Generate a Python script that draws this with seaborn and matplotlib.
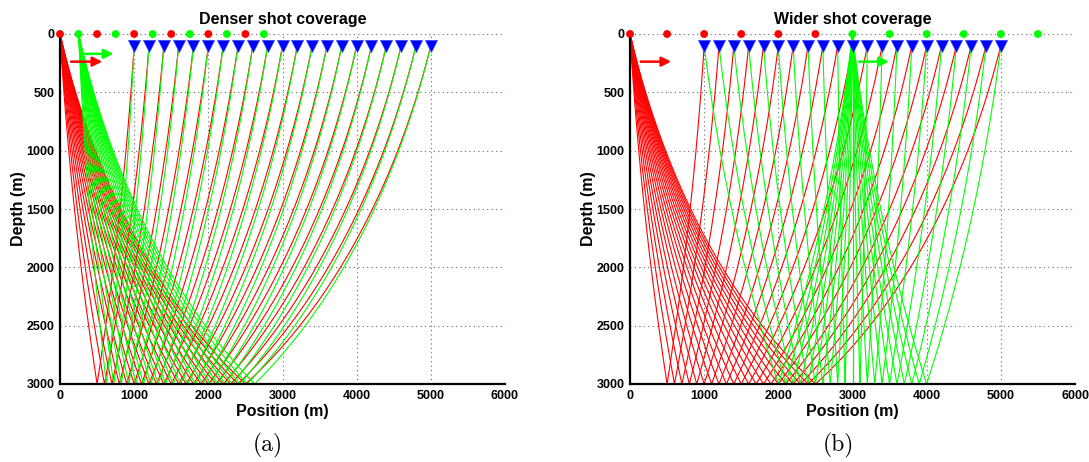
import numpy as np
import pandas as pd
import matplotlib
matplotlib.use("Agg")
import matplotlib.pyplot as plt
import seaborn as sns

# ---- survey geometry (metres) ----
receiver_x = [1000, 1200, 1400, 1600, 1800, 2000, 2200, 2400, 2600, 2800, 3000,
              3200, 3400, 3600, 3800, 4000, 4200, 4400, 4600, 4800, 5000]
receiver_depth = 100
reflector_depth = 3000

dense_red_shots = [0, 500, 1000, 1500, 2000, 2500]
dense_green_shots = [250, 750, 1250, 1750, 2250, 2750]
wide_red_shots = [0, 500, 1000, 1500, 2000, 2500]
wide_green_shots = [3000, 3500, 4000, 4500, 5000, 5500]

# shot whose rays are traced in each panel: (red, green)
dense_traced = (0, 250)
wide_traced = (0, 3000)

# shot-move arrows: (x start, x end, depth)
dense_arrows = {"red": (150, 570, 237), "green": (320, 720, 170)}
wide_arrows = {"red": (145, 555, 237), "green": (3090, 3490, 237)}

# linear velocity model v(z) = v0 + g z  ->  rays are circular arcs
v0 = 2000.0
gradient = 1.0
z_shift = v0 / gradient

RED = "#ff0000"
GREEN = "#00ff00"
BLUE = "#0000ff"


def ray_arc(xa, za, xb, zb, n=90):
    """Circular ray path between two points in a linear-gradient medium."""
    z = np.linspace(za, zb, n)
    if abs(xb - xa) < 1e-9:
        return np.full(n, float(xa)), z
    xc = (xb ** 2 - xa ** 2 + (zb + z_shift) ** 2 - (za + z_shift) ** 2) / (2.0 * (xb - xa))
    r2 = (xa - xc) ** 2 + (za + z_shift) ** 2
    side = np.sign(xa - xc)
    x = xc + side * np.sqrt(np.maximum(r2 - (z + z_shift) ** 2, 0.0))
    return x, z


def ray_table(traced):
    rows = []
    ray_id = 0
    for colour, xs in zip(("red", "green"), traced):
        for xr in receiver_x:
            xm = 0.5 * (xs + xr)
            xd, zd = ray_arc(xs, 0.0, xm, reflector_depth)
            xu, zu = ray_arc(xm, reflector_depth, xr, receiver_depth)
            x = np.concatenate([xd, xu[1:]])
            z = np.concatenate([zd, zu[1:]])
            rows.append(pd.DataFrame({"x": x, "z": z, "shot": colour, "ray": ray_id}))
            ray_id += 1
    return pd.concat(rows, ignore_index=True)


sns.set_theme(style="white")
plt.rcParams["font.family"] = ["Liberation Sans", "DejaVu Sans"]
plt.rcParams["font.weight"] = "bold"
plt.rcParams["text.color"] = "black"
plt.rcParams["axes.labelcolor"] = "black"
plt.rcParams["axes.titlecolor"] = "black"

fig = plt.figure(figsize=(10.89, 4.62), dpi=100)
W, H = 1089, 462
ax_a = fig.add_axes([60 / W, (H - 384) / H, 445 / W, 350 / H])
ax_b = fig.add_axes([630 / W, (H - 384) / H, 445 / W, 350 / H])

panels = [
    (ax_a, "Denser shot coverage", dense_traced, dense_red_shots, dense_green_shots, dense_arrows),
    (ax_b, "Wider shot coverage", wide_traced, wide_red_shots, wide_green_shots, wide_arrows),
]

for ax, title, traced, red_shots, green_shots, arrows in panels:
    rays = ray_table(traced)
    sns.lineplot(data=rays, x="x", y="z", hue="shot", units="ray", estimator=None,
                 sort=False, palette={"red": RED, "green": GREEN},
                 hue_order=["red", "green"], linewidth=0.8, legend=False, ax=ax)

    rec = pd.DataFrame({"x": receiver_x, "z": [receiver_depth] * len(receiver_x)})
    sns.scatterplot(data=rec, x="x", y="z", marker="v", s=80, color=BLUE,
                    edgecolor="#4060ff", linewidth=0.4, ax=ax, zorder=5, clip_on=False)

    shots = pd.DataFrame({"x": red_shots + green_shots,
                          "z": [0] * (len(red_shots) + len(green_shots)),
                          "shot": ["red"] * len(red_shots) + ["green"] * len(green_shots)})
    sns.scatterplot(data=shots, x="x", y="z", hue="shot", palette={"red": RED, "green": GREEN},
                    s=32, linewidth=0, legend=False, ax=ax, zorder=6, clip_on=False)

    for colour, (x0, x1, y) in arrows.items():
        c = RED if colour == "red" else GREEN
        ax.annotate("", xy=(x1, y), xytext=(x0, y),
                    arrowprops=dict(arrowstyle="-|>", color=c, lw=1.8,
                                    mutation_scale=14, shrinkA=0, shrinkB=0),
                    zorder=7)

    ax.set_xlim(0, 6000)
    ax.set_ylim(3000, 0)
    ax.set_xticks([0, 1000, 2000, 3000, 4000, 5000, 6000])
    ax.set_yticks([0, 500, 1000, 1500, 2000, 2500, 3000])
    ax.grid(True, linestyle=(0, (1, 3)), color="0.4", linewidth=0.8)
    ax.set_axisbelow(True)
    for side in ("top", "right"):
        ax.spines[side].set_visible(False)
    for side in ("left", "bottom"):
        ax.spines[side].set_color("black")
        ax.spines[side].set_linewidth(1.6)
    ax.tick_params(direction="in", length=4, width=1.4, colors="black",
                   labelsize=9, pad=4)
    for lab in ax.get_xticklabels() + ax.get_yticklabels():
        lab.set_fontweight("bold")
    ax.set_title(title, fontsize=11.5, fontweight="bold", pad=7, color="black")
    ax.set_xlabel("Position (m)", fontsize=11.5, fontweight="bold", labelpad=2, color="black")
    ax.set_ylabel("Depth (m)", fontsize=11.5, fontweight="bold", labelpad=0, color="black")

fig.text(268 / W, 1 - 445 / H, "(a)", family=["cmr10", "DejaVu Serif"],
         fontsize=17, fontweight="normal", ha="center", va="center", color="black")
fig.text(838 / W, 1 - 445 / H, "(b)", family=["cmr10", "DejaVu Serif"],
         fontsize=17, fontweight="normal", ha="center", va="center", color="black")

fig.savefig("out.png", dpi=100)
